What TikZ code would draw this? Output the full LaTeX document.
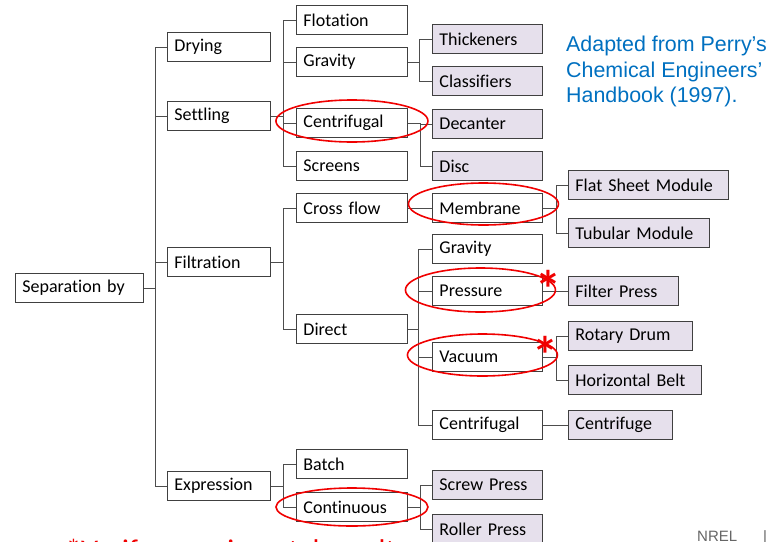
\documentclass[tikz,border=0pt]{standalone}
\usepackage{fontspec}
\setmainfont{Carlito}[Ligatures=NoCommon]
\newfontfamily\arialfont{Liberation Sans}
\usetikzlibrary{positioning}

\definecolor{boxline}{HTML}{404040}
\definecolor{linkgray}{HTML}{4D4D4D}
\definecolor{eqfill}{HTML}{E6E0EC}
\definecolor{perryblue}{HTML}{0070C0}
\definecolor{markred}{HTML}{F00000}

\tikzset{
  sepbox/.style={draw=boxline, line width=0.9pt, fill=white, rectangle,
    minimum height=29pt, inner xsep=7pt, inner ysep=0pt, anchor=west,
    text width=#1, align=left, font=\fontsize{18}{20}\selectfont},
  sepbox/.default=96pt,
  eqbox/.style={sepbox=#1, fill=eqfill},
  eqbox/.default=96pt,
  link/.style={draw=linkgray, line width=0.9pt},
  ring/.style={draw=markred, line width=1.6pt},
  starmark/.style={text=markred, inner sep=0pt, font=\bfseries\fontsize{52}{52}\selectfont}
}

\begin{document}
\begin{tikzpicture}[x=1pt,y=-1pt]
        \clip (0,0) rectangle (778,541);

        % root and first level
        \node[sepbox=114pt] (sep) at (15,288) {Separation by};
        \node[sepbox=89pt] (dry) at (167,47) {Drying};
        \node[sepbox=89pt] (set) at (167,116) {Settling};
        \node[sepbox=89pt] (fil) at (167,262) {Filtration};
        \node[sepbox=89pt] (exp) at (167,486) {Expression};

        % second level
        \node[sepbox=97pt] (flo) at (296,20) {Flotation};
        \node[sepbox=97pt] (grv) at (296,62) {Gravity};
        \node[sepbox=97pt] (cen) at (296,123) {Centrifugal};
        \node[sepbox=97pt] (scr) at (296,166) {Screens};
        \node[sepbox=97pt] (crs) at (296,208) {Cross flow};
        \node[sepbox=97pt] (dir) at (296,329) {Direct};
        \node[sepbox=97pt] (bat) at (296,464) {Batch};
        \node[sepbox=97pt] (con) at (296,507) {Continuous};

        % third level
        \node[eqbox] (thi) at (432,39) {Thickeners};
        \node[eqbox] (cla) at (432,81) {Classifiers};
        \node[eqbox] (dec) at (432,124) {Decanter};
        \node[eqbox] (dis) at (432,166) {Disc};
        \node[sepbox] (mem) at (432,208) {Membrane};
        \node[sepbox] (dgr) at (432,249) {Gravity};
        \node[sepbox] (pre) at (432,291) {Pressure};
        \node[sepbox] (vac) at (432,357) {Vacuum};
        \node[sepbox] (dce) at (432,425) {Centrifugal};
        \node[eqbox] (scw) at (432,485) {Screw Press};
        \node[eqbox] (rol) at (432,529) {Roller Press};

        % equipment
        \node[eqbox=146pt] (fsm) at (568,185) {Flat Sheet Module};
        \node[eqbox=127pt] (tub) at (568,233) {Tubular Module};
        \node[eqbox=96pt] (fpr) at (568,291) {Filter Press};
        \node[eqbox=110pt] (rdr) at (568,336) {Rotary Drum};
        \node[eqbox=119pt] (hbe) at (568,380) {Horizontal Belt};
        \node[eqbox=90pt] (cfg) at (568,425) {Centrifuge};

        \foreach \c in {dry,set,fil,exp}
            \draw[link] (sep.east) -- ++(12,0) |- (\c.west);
        \foreach \c in {flo,grv,cen,scr}
            \draw[link] (set.east) -- ++(13,0) |- (\c.west);
        \foreach \c in {crs,dir}
            \draw[link] (fil.east) -- ++(13,0) |- (\c.west);
        \foreach \c in {bat,con}
            \draw[link] (exp.east) -- ++(13,0) |- (\c.west);
        \foreach \c in {thi,cla}
            \draw[link] (grv.east) -- ++(12,0) |- (\c.west);
        \foreach \c in {dec,dis}
            \draw[link] (cen.east) -- ++(13,0) |- (\c.west);
        \draw[link] (crs.east) -- (mem.west);
        \foreach \c in {dgr,pre,vac,dce}
            \draw[link] (dir.east) -- ++(11,0) |- (\c.west);
        \foreach \c in {scw,rol}
            \draw[link] (con.east) -- ++(13,0) |- (\c.west);
        \foreach \c in {fsm,tub}
            \draw[link] (mem.east) -- ++(14,0) |- (\c.west);
        \draw[link] (pre.east) -- (fpr.west);
        \foreach \c in {rdr,hbe}
            \draw[link] (vac.east) -- ++(14,0) |- (\c.west);
        \draw[link] (dce.east) -- (cfg.west);

        % red marks
        \draw[ring] (cen.center) ++(0,-2) ellipse [x radius=76, y radius=21];
        \draw[ring] (mem.center) ++(-4,-4) ellipse [x radius=75, y radius=21];
        \draw[ring] (pre.center) ++(-7,-1) ellipse [x radius=75, y radius=22];
        \draw[ring] (vac.center) ++(-5,-2) ellipse [x radius=75, y radius=21];
        \draw[ring] (con.center) ++(0,0) ellipse [x radius=76, y radius=19];
        \node[starmark] (ast1) at (548,289) {*};
        \node[starmark] (ast2) at (545,355) {*};

        \node[anchor=north west, align=left, inner sep=0pt, text=perryblue,
            font=\arialfont\fontsize{21.4}{25.5}\selectfont] (src) at (566,36)
            {Adapted from Perry’s\\Chemical Engineers’\\Handbook (1997).};
        \node[anchor=north west, inner sep=0pt, text=markred,
            font=\fontsize{30}{36}\selectfont] (note) at (66,539) {*Verify experimental results};
        \node[anchor=north west, inner sep=0pt, text=black!60,
            font=\arialfont\fontsize{15}{18}\selectfont] (nrel) at (697,530) {NREL\hspace{26pt}|};
    \end{tikzpicture}
\end{document}
